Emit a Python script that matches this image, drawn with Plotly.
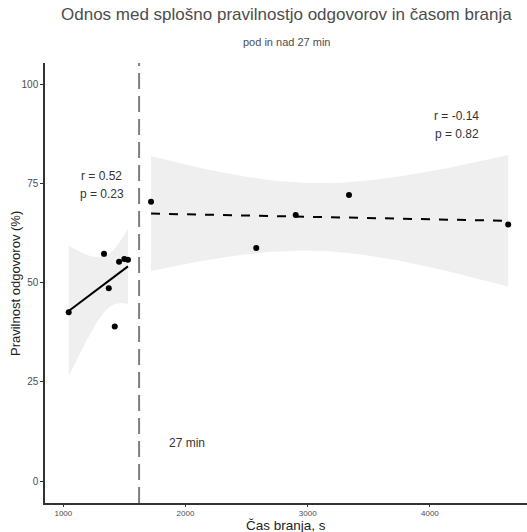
import numpy as np
import plotly.graph_objects as go

# Data
left_x = [1044, 1333, 1372, 1421, 1456, 1499, 1529]
left_y = [42.6, 57.3, 48.6, 39.0, 55.3, 56.0, 55.8]
right_x = [1718, 2579, 2902, 3338, 4641]
right_y = [70.4, 58.8, 67.1, 72.1, 64.7]
cutoff = 1620  # 27 min in seconds
t_crit = {5: 2.5706, 3: 3.1824}  # 95% two-sided t quantiles

x_ticks = [1000, 2000, 3000, 4000]
y_ticks = [0, 25, 50, 75, 100]

band_col = "#efefef"
FONT = "Liberation Sans, Arial, sans-serif"


def lm_fit(xs, ys):
    xs = np.asarray(xs, float)
    ys = np.asarray(ys, float)
    n = len(xs)
    b, a = np.polyfit(xs, ys, 1)
    resid = ys - (a + b * xs)
    s = np.sqrt((resid ** 2).sum() / (n - 2))
    grid = np.linspace(xs.min(), xs.max(), 80)
    fit = a + b * grid
    se = s * np.sqrt(1 / n + (grid - xs.mean()) ** 2 / ((xs - xs.mean()) ** 2).sum())
    t = t_crit[n - 2]
    return grid, fit, fit - t * se, fit + t * se


fig = go.Figure()

for xs, ys, dash in [(left_x, left_y, "solid"), (right_x, right_y, "dash")]:
    g, f, lo, hi = lm_fit(xs, ys)
    fig.add_trace(go.Scatter(x=np.concatenate([g, g[::-1]]),
                             y=np.concatenate([hi, lo[::-1]]),
                             fill="toself", fillcolor=band_col,
                             line=dict(width=0), mode="lines",
                             hoverinfo="skip", showlegend=False))
    fig.add_trace(go.Scatter(x=g, y=f, mode="lines",
                             line=dict(color="black", width=2, dash=dash),
                             showlegend=False))

fig.add_trace(go.Scatter(x=left_x + right_x, y=left_y + right_y, mode="markers",
                         marker=dict(color="black", size=6), showlegend=False))

fig.add_shape(type="line", x0=cutoff, x1=cutoff, y0=0, y1=1, yref="paper",
              line=dict(color="#7f7f7f", width=2, dash="16px,7px"))

txt = "#333333"
ann = [
    dict(x=1314, y=77, text="r = 0.52"),
    dict(x=1314, y=72.4, text="p = 0.23"),
    dict(x=4222, y=92.1, text="r = -0.14"),
    dict(x=4222, y=87.6, text="p = 0.82"),
    dict(x=2012, y=9.5, text="27 min"),
]
for a in ann:
    fig.add_annotation(x=a["x"], y=a["y"], text=a["text"], showarrow=False,
                       font=dict(size=12, color=txt, family=FONT),
                       xanchor="center", yanchor="middle")

# titles (paper coords: plot area 482x440 px, left at 45 px, bottom at 503 px)
fig.add_annotation(x=0.5, y=(503 - 15) / 440, xref="paper", yref="paper",
                   text="Odnos med splošno pravilnostjo odgovorov in časom branja",
                   showarrow=False, xanchor="center", yanchor="middle",
                   font=dict(size=17, color="#4d4d4d", family=FONT))
fig.add_annotation(x=0.5, y=(503 - 42) / 440, xref="paper", yref="paper",
                   text="pod in nad 27 min",
                   showarrow=False, xanchor="center", yanchor="middle",
                   font=dict(size=11, color="#4d4d4d", family=FONT))
fig.add_annotation(x=0.5, y=(503 - 525) / 440, xref="paper", yref="paper",
                   text="Čas branja, s",
                   showarrow=False, xanchor="center", yanchor="middle",
                   font=dict(size=13.5, color="#222222", family=FONT))
fig.add_annotation(x=(15 - 45) / 482, y=(503 - 284) / 440, xref="paper", yref="paper",
                   text="Pravilnost odgovorov (%)", textangle=-90,
                   showarrow=False, xanchor="center", yanchor="middle",
                   font=dict(size=13, color="#222222", family=FONT))

fig.update_layout(
    width=527, height=532,
    margin=dict(l=45, r=0, t=63, b=29),
    paper_bgcolor="white", plot_bgcolor="white",
    font=dict(family=FONT, color="#4d4d4d"),
    xaxis=dict(range=[850, 4795], tickvals=x_ticks,
               ticktext=[str(v) for v in x_ticks],
               showgrid=False, zeroline=False, showline=True,
               linecolor="#333333", linewidth=1.5, ticks="outside",
               ticklen=2, tickcolor="#333333", ticklabelstandoff=0,
               tickfont=dict(size=8, color="#4d4d4d")),
    yaxis=dict(range=[-5.5, 105.4], tickvals=y_ticks,
               showgrid=False, zeroline=False, showline=True,
               linecolor="#333333", linewidth=1.5, ticks="outside",
               ticklen=3, tickcolor="#333333", tickfont=dict(size=10, color="#4d4d4d")),
)

fig.write_html("out.html")
